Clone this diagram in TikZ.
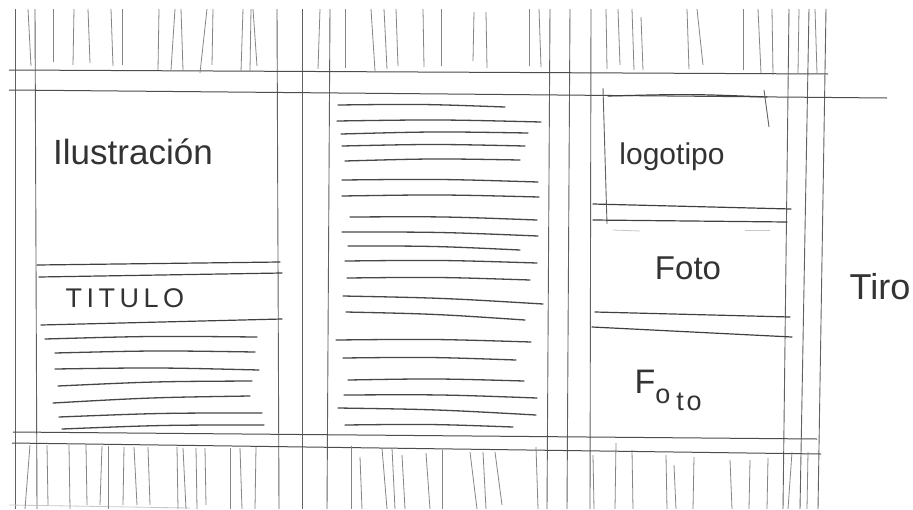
\documentclass[tikz,border=0pt]{standalone}
\usepackage{fontspec}
\setmainfont{Liberation Sans}
\begin{document}
\begin{tikzpicture}[x=1pt,y=-1pt,
  colline/.style={draw=black!62,line width=0.9pt},
  guide/.style={draw=black!70,line width=1.0pt},
  hatch/.style={draw=black!48,line width=0.8pt},
  txtline/.style={draw=black!72,line width=1.3pt,line cap=round},
  boxline/.style={draw=black!75,line width=1.2pt,line cap=round},
  faint/.style={draw=black!22,line width=0.8pt},
  hand/.style={text=black!80,inner sep=0pt,font=\fontsize{#1}{#1}\selectfont}]
\useasboundingbox[fill=white] (0,0) rectangle (913,509);

% column guide lines
\foreach \a/\b in {15/15,35/37,277/279,302/302,330/327,550/547,570/567,591/590,789/783,809/800,826/818}
  \draw[colline] (\a,9) -- (\b,509);

% horizontal guides
\draw[guide] (9,70) -- (828,74);
\draw[guide] (9,90) -- (887,98);
\draw[guide] (13,432) -- (817,439);
\draw[guide] (12,443) -- (821,454);
\draw[faint] (9,505) -- (190,508);

% top hatching
\foreach \a/\ya/\b/\yb in {28/9/31/66,53/9/53/62,74/9/73/65,88/9/90/63,111/9/113/66,122/9/122/65,
  159/9/158/70,175/9/171/70,181/9/183/70,207/9/200/73,213/9/212/65,243/9/241/72,251/9/250/71,253/9/257/66,
  320/9/318/69,345/9/345/68,371/9/375/71,384/9/387/69,396/9/398/66,423/9/424/67,441/9/441/66,
  474/12/473/61,486/12/487/68,529/9/529/66,539/9/541/67,606/9/607/69,618/9/620/65,632/9/634/70,641/17/643/70,
  687/9/689/69,697/9/703/65,743/9/743/70,758/9/761/73,772/9/773/75,799/9/798/73,815/9/817/73}
  \draw[hatch] (\a,\ya) -- (\b,\yb);

% bottom hatching
\foreach \a/\ya/\b/\yb in {30/445/25/509,47/445/48/505,69/445/70/509,86/445/87/505,102/446/100/505,108/446/108/509,
  124/447/123/505,134/447/137/505,148/447/150/505,177/447/178/509,183/448/186/509,196/448/197/509,205/448/206/505,
  230/448/230/509,240/448/242/509,256/447/255/509,351/446/351/509,360/457/362/509,382/448/387/509,392/448/395/509,
  402/455/405/509,426/453/430/509,442/450/442/509,470/452/477/509,483/452/486/509,495/452/502/505,536/447/538/509,
  593/455/594/509,616/443/615/509,632/450/633/509,666/455/667/509,674/465/676/509,694/457/693/509,730/460/732/509,
  750/460/749/509,768/458/767/509,792/452/788/509,808/452/807/509}
  \draw[hatch] (\a,\ya) -- (\b,\yb);

% column 1
\draw[boxline] (37,265) -- (280,262);
\draw[boxline] (39,277) -- (282,273);
\draw[boxline] (41,325) -- (282,319);
\foreach \a/\ya/\b/\yb in {45/339/257/337,55/353/255/352,55/369/259/370,58/386/252/381,53/403/250/396,59/417/262/413,62/429/264/425}
  \draw[txtline] (\a,\ya) .. controls ({(\a+\b)/2},{(\ya+\yb)/2-2}) .. (\b,\yb);
\node[hand=35] (ilus) at (133,152) {Ilustración};
\node[hand=27] (titulo) at (125,298) {T\,I\,T\,U\,L\,O};

% column 2 text lines
\foreach \a/\ya/\b/\yb in {338/105/505/107,337/121/541/122,341/134/528/133,342/146/525/146,345/161/520/160,
  342/180/538/182,342/196/539/197,350/217/537/220,342/232/538/236,348/246/520/250,345/261/537/263,
  347/278/530/280,343/296/543/304,346/312/525/320,336/340/531/342,343/358/516/360,348/380/524/381,
  344/395/537/398,338/408/536/415,345/425/513/427}
  \draw[txtline] (\a,\ya) .. controls ({(\a+\b)/2},{(\ya+\yb)/2-2}) .. (\b,\yb);

% column 3
\draw[colline] (603,88) -- (607,224);
\draw[boxline] (608,96) .. controls (690,94) .. (767,97);
\draw[colline] (764,90) -- (769,127);
\draw[boxline] (593,204) -- (791,209);
\draw[boxline] (593,220) -- (787,222);
\draw[faint] (613,230) -- (640,231);
\draw[faint] (745,230) -- (770,230);
\draw[boxline] (595,312) -- (790,317);
\draw[boxline] (592,327) -- (792,337);
\node[hand=30] (logo) at (672,157) {logotipo};
\node[hand=33] (foto1) at (688,268) {Foto};
\node[hand=34] (fF) at (645,382) {F};
\node[hand=27] (fo1) at (663,396) {o};
\node[hand=27] (ft) at (680,402) {t};
\node[hand=27] (fo2) at (694,403) {o};

% right label
\node[hand=36] (tiro) at (880,287) {Tiro};
\end{tikzpicture}
\end{document}
